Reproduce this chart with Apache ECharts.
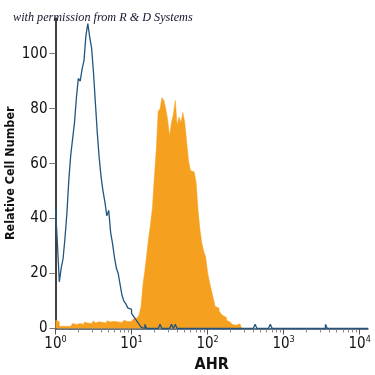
<!DOCTYPE html>
<html><head><meta charset="utf-8">
<script src="https://cdn.jsdelivr.net/npm/echarts@6/dist/echarts.min.js"></script>
<style>html,body{margin:0;padding:0;background:#fff}#c{width:375px;height:375px}</style>
</head><body><div id="c"></div>
<script>
// Histogram bins: uniform in log10(AHR), starting at 10^0
const binStartExp = 0;
const binWidthExp = 0.025;
const xMaxExp = 4.11;
const xTickExps = [0, 1, 2, 3, 4];
const yTicks = [0, 20, 40, 60, 80, 100];
const yMax = 113;

// Isotype control (blue outline) counts per bin
const isotypeCounts = [
  44,31,17,22,25.5,33,42,54,63,69,
  75,84,91,90,94.5,97.5,106.5,111,106,102,
  93,82,71,62,55,50,46,41,43,35,
  31,26,22,20,16,12,10,9,7.5,7,
  5.5,4.5,3.5,2.5,1.5,0.5,0,1.5,0,0,
  0,0,0,0,0,1.5,0,0,0,0,
  0,1.5,0,1.5,0,0,0,0,0,0,
  0,0,0,0,0,0,0,0,0,0,
  0,0,0,0,0,0,0,0,0,0,
  0,0,0,0,0,0,0,0,0,0,
  0,0,0,0,0,1.5,0,0,0,0,
  0,0,0,1.5,0,0,0,0,0,0,
  0,0,0,0,0,0,0,0,0,0,
  0,0,0,0,0,0,0,0,0,0,
  0,0,1.5,0,0,0,0,0,0,0,
  0,0,0,0,0,0,0,0,0,0,
  0,0,0,0
];

// AHR antibody (orange filled) counts per bin
const ahrCounts = [
  3,2.5,0.8,0.8,0.8,0.8,0.8,0.8,1,1.8,
  1.5,2,1.8,2.2,1.5,2.3,2,2.5,1.8,2.2,
  2.8,2,2.5,3,2.2,2.6,2,2.8,2.4,2,
  2.6,3,2.4,2.8,2.2,2.6,3,2.5,3,2.6,
  3,3.5,3.8,4,5,8,16,21,27,33,
  38,44,55,65,79,80,84,83,80,76,
  70,75,78,83,74,77,75,78.6,75,68,
  61,57.5,57,57,53,43,36,31,28,26,
  20.5,17,14,11,8,7.5,6.5,5.5,4.7,4,
  3,2.3,1.8,1.5,1.2,1.7,1.7,1.7,0
];

const minorTickExps = [];
for (let d = 0; d < 4; d++) for (let m = 2; m <= 9; m++) minorTickExps.push(d + Math.log10(m));

function toSteps(counts) {
  const pts = counts.map((c, k) => [binStartExp + k * binWidthExp, c]);
  pts.push([binStartExp + counts.length * binWidthExp, counts[counts.length - 1]]);
  return pts;
}
const isoPts = toSteps(isotypeCounts);
isoPts.push([xMaxExp, 0]);

const FONT = "'Liberation Sans Narrow','DejaVu Sans Condensed','Liberation Sans',sans-serif";
const chart = echarts.init(document.getElementById('c'), null, {renderer: 'canvas'});
chart.setOption({
  animation: false,
  backgroundColor: '#ffffff',
  title: {
    text: 'with permission from R & D Systems',
    left: 8, top: 7,
    textStyle: {fontFamily: "'Liberation Serif','DejaVu Serif',serif", fontStyle: 'italic', fontWeight: 'normal', fontSize: 12.2, color: '#14142e'}
  },
  grid: {left: 55.5, right: 7, top: 18, bottom: 46.5, containLabel: false, outerBoundsMode: 'none'},
  xAxis: [{
    type: 'value', min: 0, max: xMaxExp,
    name: 'AHR', nameLocation: 'middle', nameGap: 28, nameMoveOverlap: false,
    nameTextStyle: {fontFamily: FONT, fontWeight: 'bold', fontSize: 16, color: '#111'},
    axisLine: {show: true, onZero: false, lineStyle: {color: '#3a4a5a', width: 1.5}},
    axisTick: {show: true, length: 6, customValues: xTickExps, lineStyle: {color: '#555', width: 1}},
    axisLabel: {
      customValues: xTickExps, margin: 7,
      formatter: v => '{b|10}{s|' + Math.round(v) + '}',
      rich: {
        b: {fontFamily: FONT, fontSize: 15, color: '#111', lineHeight: 16, verticalAlign: 'bottom'},
        s: {fontFamily: FONT, fontSize: 9, color: '#111', lineHeight: 16, verticalAlign: 'top', padding: [0,0,6,0]}
      }
    },
    splitLine: {show: false}
  }, {
    type: 'value', min: 0, max: xMaxExp, position: 'bottom',
    axisLine: {show: false},
    axisTick: {show: true, length: 4, customValues: minorTickExps, lineStyle: {color: '#888', width: 1}},
    axisLabel: {show: false},
    splitLine: {show: false}
  }],
  yAxis: {
    type: 'value', min: 0, max: yMax,
    name: 'Relative Cell Number', nameLocation: 'middle', nameGap: 38, nameMoveOverlap: false,
    nameTextStyle: {fontFamily: FONT, fontWeight: 'bold', fontSize: 12.5, color: '#111'},
    axisLine: {show: true, lineStyle: {color: '#000', width: 1.5}},
    axisTick: {show: true, length: 6, customValues: yTicks, lineStyle: {color: '#777'}},
    axisLabel: {customValues: yTicks, margin: 8, fontFamily: FONT, fontSize: 15, color: '#111'},
    splitLine: {show: false}
  },
  series: [{
    name: 'AHR', type: 'line', step: 'end', showSymbol: false, z: 2,
    data: toSteps(ahrCounts),
    lineStyle: {width: 0.5, color: '#f6a020'},
    areaStyle: {color: '#f6a020', opacity: 1, origin: 'start'}
  }, {
    name: 'Isotype', type: 'line', step: 'end', showSymbol: false, z: 3,
    data: isoPts,
    lineStyle: {width: 1.3, color: '#23557f'}
  }]
});
</script></body></html>
